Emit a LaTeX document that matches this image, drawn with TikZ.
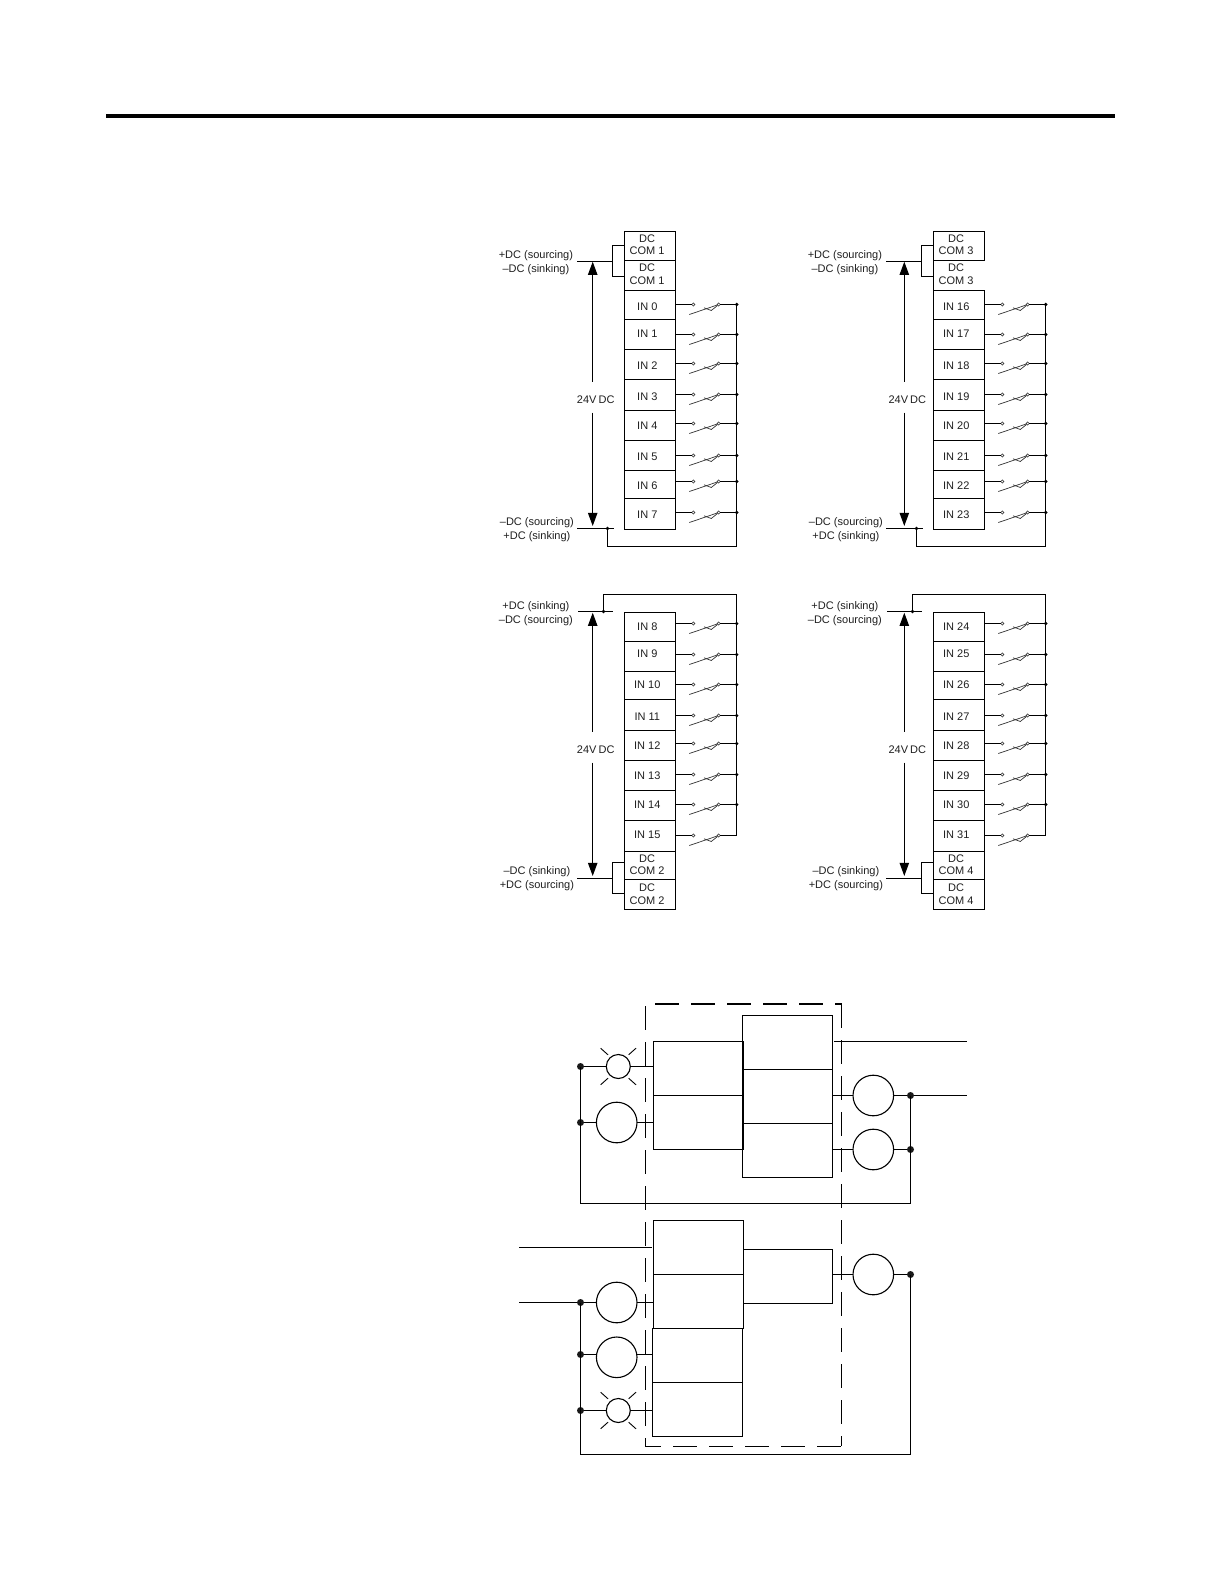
\documentclass[tikz,border=0pt]{standalone}
\usepackage{fontspec}
\setmainfont{Liberation Sans}
\usetikzlibrary{arrows.meta,calc}
\tikzset{
  wire/.style={line width=0.55bp,line join=miter},
  cell/.style={draw,line width=0.6bp,rectangle,inner sep=0pt,outer sep=0pt,minimum width=25.5bp},
  celltext/.style={inner sep=0pt,outer sep=0pt,font=\fontsize{5.5bp}{6.15bp}\selectfont,align=center,text=black!88},
  lab/.style={inner sep=0pt,outer sep=0pt,font=\fontsize{5.5bp}{6.15bp}\selectfont,text=black!88},
  contact/.style={circle,draw=black!75,line width=0.3bp,fill=white,inner sep=0pt,outer sep=0pt,minimum size=1.6bp},
  busdot/.style={circle,fill=black,inner sep=0pt,outer sep=0pt,minimum size=1.8bp},
  busend/.style={inner sep=0pt,outer sep=0pt,minimum size=0pt},
  blade/.style={line width=0.35bp,draw=black!80},
  volt/.style={line width=0.6bp,-{Triangle[length=6.6bp,width=4.7bp]}},
  bigdot/.style={circle,fill=black!90,inner sep=0pt,outer sep=0pt,minimum size=3.5bp},
  ring/.style={circle,draw,line width=0.55bp,inner sep=0pt,outer sep=0pt,minimum size=20.3bp},
  lamp/.style={circle,draw,line width=0.55bp,inner sep=0pt,outer sep=0pt,minimum size=12bp},
  ray/.style={line width=0.45bp},
  box/.style={draw,line width=0.6bp,rectangle,inner sep=0pt,outer sep=0pt,minimum width=45bp,minimum height=27bp},
  dash1/.style={line width=0.55bp,dash pattern=on 12bp off 6bp},
  dash2/.style={line width=1.1bp,dash pattern=on 12bp off 6bp}
}
% [cell opts]{name}{xL}{yT}{yB}{textY}{text}
\newcommand{\termcell}[6][]{%
  \pgfmathsetmacro\cellh{(#5-#4)*0.5}%
  \node[cell,#1,minimum height=\cellh bp] (#2) at (#3+25.5,{(#4+#5)/2}) {};
}
% name, xL, yT, yB, textY, wireY, label, bus-node style
\newcommand{\inrow}[8]{%
  \termcell{#1}{#2}{#3}{#4}{}{}%
  \pgfmathsetmacro\wyy{floor(#6)+0.5}%
  \node[celltext] (#1-t) at (#2+23,#5+0.5) {#7};
  \node[contact] (#1-a) at (#2+69,\wyy) {};
  \node[contact] (#1-b) at (#2+94.4,\wyy) {};
  \node[#8] (#1-c) at (#2+112.4,\wyy) {};
  \coordinate (#1-p) at (#2+65,\wyy+10);
  \coordinate (#1-q) at (#2+79.7,\wyy+3.3);
  \coordinate (#1-r) at (#2+87,\wyy+6);
  \draw[wire] (#1.east |- #1-a) -- (#1-a);
  \draw[wire] (#1-b) -- (#1-c);
  \draw[blade] (#1-p) -- (#1-b);
  \draw[blade] (#1-q) -- (#1-r) -- (#1-b);
}
% prefix, x offset, arrow x, first input, COM number, opts for second COM cell
\newcommand{\upperblock}[6]{%
  \pgfmathsetmacro\xL{#2+624.3}%
  \termcell{#1-c1}{\xL}{231.3}{260.7}{}{}
  \termcell[#6]{#1-c2}{\xL}{260.7}{290.3}{}{}
  \node[celltext] (#1-c1t) at (\xL+22.7,244.9) {DC\\COM #5};
  \node[celltext] (#1-c2t) at (\xL+22.7,274.2) {DC\\COM #5};
  \foreach \k/\yt/\yb/\ty/\wy in {0/290.3/319.3/306.3/304.3,1/319.3/349.3/333.3/334,2/349.3/379.3/365.3/363,3/379.3/410.3/396/394,4/410.3/440.3/425/423.7,5/440.3/470.3/456/455,6/470.3/498.3/485/481,7/498.3/529.3/514.3/512}{
    \pgfmathtruncatemacro\num{#4+\k}
    \inrow{#1-i\k}{\xL}{\yt}{\yb}{\ty}{\wy}{IN \num}{busdot}
  }
  \coordinate (#1-h0) at (#2+577,261.5);
  \coordinate (#1-b0) at (#2+612.5,261.5);
  \coordinate (#1-b1) at (#2+612.5,245.5);
  \coordinate (#1-b2) at (#2+612.5,276.5);
  \draw[wire] (#1-h0) -- (#1-b0);
  \draw[wire] (#1-c1.west |- #1-b1) -- (#1-b1) -- (#1-b2) -- (#1-c2.west |- #1-b2);
  \node[lab] (#1-l1) at (#2+535.9,256.1) {+DC (sourcing)};
  \node[lab] (#1-l2) at (#2+535.9,270.1) {–DC (sinking)};
  \node[lab] (#1-l3) at (#2+536.9,523.1) {–DC (sourcing)};
  \node[lab] (#1-l4) at (#2+536.9,537.1) {+DC (sinking)};
  \node[lab] (#1-v) at (#3+3,399.3) {24V\hspace{-0.5bp} DC};
  \coordinate (#1-a1) at (#3,381.7);
  \coordinate (#1-a2) at (#3,261.7);
  \coordinate (#1-a3) at (#3,412.7);
  \coordinate (#1-a4) at (#3,526);
  \draw[volt] (#1-a1) -- (#1-a2);
  \draw[volt] (#1-a3) -- (#1-a4);
  \coordinate (#1-h1) at (#2+577,528.5);
  \coordinate (#1-h2) at (#2+613.7,528.5);
  \node[busdot] (#1-d) at (#2+607.5,528.5) {};
  \draw[wire] (#1-h1) -- (#1-h2);
  \coordinate (#1-r1) at (#2+736.7,546.5);
  \coordinate (#1-r2) at (#2+607.5,546.5);
  \draw[wire] (#1-i0-c.center) -- (#1-r1) -- (#1-r2) -- (#1-d.center);
}
\newcommand{\lowerblock}[5]{%
  \pgfmathsetmacro\xL{#2+624.3}%
  \foreach \k/\yt/\yb/\ty/\wy/\st in {0/612.3/641.3/626/623.3/busdot,1/641.3/671.3/653.3/654/busdot,2/671.3/699.3/684.7/684/busdot,3/699.3/730.3/716/715/busdot,4/730.3/760.3/745/743.3/busdot,5/760.3/790.3/775.3/774.3/busdot,6/790.3/820.7/804.3/804.3/busdot,7/820.7/851.3/834/835/busend}{
    \pgfmathtruncatemacro\num{#4+\k}
    \inrow{#1-i\k}{\xL}{\yt}{\yb}{\ty}{\wy}{IN \num}{\st}
  }
  \termcell{#1-c1}{\xL}{851.3}{879.3}{}{}
  \termcell{#1-c2}{\xL}{879.3}{909.3}{}{}
  \node[celltext] (#1-c1t) at (\xL+22.7,864.9) {DC\\COM #5};
  \node[celltext] (#1-c2t) at (\xL+22.7,894.2) {DC\\COM #5};
  \coordinate (#1-h0) at (#2+577,878.5);
  \coordinate (#1-b0) at (#2+612.5,878.5);
  \coordinate (#1-b1) at (#2+612.5,862.5);
  \coordinate (#1-b2) at (#2+612.5,893.5);
  \draw[wire] (#1-h0) -- (#1-b0);
  \draw[wire] (#1-c1.west |- #1-b1) -- (#1-b1) -- (#1-b2) -- (#1-c2.west |- #1-b2);
  \node[lab] (#1-l1) at (#2+535.9,607.1) {+DC (sinking)};
  \node[lab] (#1-l2) at (#2+535.9,621.1) {–DC (sourcing)};
  \node[lab] (#1-l3) at (#2+536.9,871.5) {–DC (sinking)};
  \node[lab] (#1-l4) at (#2+536.9,885.5) {+DC (sourcing)};
  \node[lab] (#1-v) at (#3+3,749.8) {24V\hspace{-0.5bp} DC};
  \coordinate (#1-a1) at (#3,731.7);
  \coordinate (#1-a2) at (#3,612.7);
  \coordinate (#1-a3) at (#3,762.7);
  \coordinate (#1-a4) at (#3,876);
  \draw[volt] (#1-a1) -- (#1-a2);
  \draw[volt] (#1-a3) -- (#1-a4);
  \coordinate (#1-h1) at (#2+578.3,611.5);
  \coordinate (#1-h2) at (#2+612.7,611.5);
  \node[busdot] (#1-d) at (#2+603.5,611.5) {};
  \draw[wire] (#1-h1) -- (#1-h2);
  \coordinate (#1-r1) at (#2+736.7,594.5);
  \coordinate (#1-r2) at (#2+603.5,594.5);
  \draw[wire] (#1-i7-c.center) -- (#1-r1) -- (#1-r2) -- (#1-d.center);
}
\newcommand{\lamprays}[1]{%
  \foreach \sx in {-1,1}{\foreach \sy in {-1,1}{
    \draw[ray] ([shift={(\sx*17.7,\sy*18.3)}]#1.center) -- ([shift={(\sx*10.3,\sy*11.7)}]#1.center);
  }}
}
\begin{document}
\begin{tikzpicture}[x=0.5bp,y=-0.5bp]
\useasboundingbox (0,0) rectangle (1224,1584);
\fill[black] (106,114) rectangle (1115,118.3);
\upperblock{UL}{0}{592.7}{0}{1}{}
\upperblock{UR}{309}{904.3}{16}{3}{draw=none}
\draw[line width=0.6bp] (UR-c2.north west) -- (UR-c2.south west);
\lowerblock{LL}{0}{592.7}{8}{2}
\lowerblock{LR}{309}{904.3}{24}{4}
% dashed enclosure
\draw[dash1] (645.3,1006) -- (645.3,1446.3) -- (841.3,1446.3);
\draw[dash1] (841.3,1004) -- (841.3,1446.3);
\draw[dash2] (655,1004) -- (841.9,1004);
% upper control circuit
\node[box] (A1) at (698.3,1068.3) {};
\node[box] (A2) at (698.3,1122.3) {};
\node[box] (B1) at (787.3,1042.3) {};
\node[box] (B2) at (787.3,1096.3) {};
\node[box] (B3) at (787.3,1150.3) {};
\draw[line width=1.1bp] (A1.north east) -- (A2.south east);
\node[lamp] (L1) at (618.3,1066.5) {};
\lamprays{L1}
\node[ring] (C1) at (616.7,1122.5) {};
\node[ring] (C2) at (873.3,1095.5) {};
\node[ring] (C3) at (873.3,1149.5) {};
\node[bigdot] (D1) at (580.5,1066.5) {};
\node[bigdot] (D2) at (580.5,1122.5) {};
\node[bigdot] (D3) at (910.5,1095.5) {};
\node[bigdot] (D4) at (910.5,1149.5) {};
\coordinate (O1) at (834,1041.5);
\coordinate (O2) at (967,1041.5);
\coordinate (O3) at (967,1095.5);
\coordinate (K1) at (910.5,1203.5);
\coordinate (K2) at (580.5,1203.5);
\draw[wire] (O1) -- (O2);
\draw[wire] (D3) -- (O3);
\draw[wire] (C2.east) -- (D3);
\draw[wire] (C3.east) -- (D4);
\draw[wire] (B2.east |- C2) -- (C2);
\draw[wire] (B3.east |- C3) -- (C3);
\draw[wire] (D1) -- (L1);
\draw[wire] (L1) -- (L1 -| A1.west);
\draw[wire] (D2) -- (C1);
\draw[wire] (C1) -- (C1 -| A2.west);
\draw[wire] (D3.center) -- (K1) -- (K2) -- (D1.center);
% lower control circuit
\node[box] (E1) at (698.5,1247.3) {};
\node[box] (E2) at (698.5,1301.3) {};
\node[box] (F1) at (697.5,1355.3) {};
\node[box] (F2) at (697.5,1409.3) {};
\node[draw,line width=0.6bp,rectangle,inner sep=0pt,outer sep=0pt,minimum width=44.3bp,minimum height=27bp] (G) at (788,1276.3) {};
\node[ring] (C4) at (616.7,1302.5) {};
\node[ring] (C5) at (616.7,1357.3) {};
\node[lamp] (L2) at (618.3,1410.5) {};
\lamprays{L2}
\node[ring] (C6) at (873.3,1274.5) {};
\node[bigdot] (D5) at (580.5,1302.5) {};
\node[bigdot] (D6) at (580.5,1354.5) {};
\node[bigdot] (D7) at (580.5,1410.5) {};
\node[bigdot] (D8) at (910.5,1274.5) {};
\coordinate (I1) at (519,1247.5);
\coordinate (I2) at (651.7,1247.5);
\coordinate (I3) at (519,1302.5);
\coordinate (K3) at (580.5,1454.5);
\coordinate (K4) at (910.5,1454.5);
\draw[wire] (I1) -- (I2);
\draw[wire] (I3) -- (D5);
\draw[wire] (D5) -- (C4);
\draw[wire] (C4) -- (C4 -| E2.west);
\draw[wire] (D6) -- (D6 -| C5.west);
\draw[wire] (C5.east |- D6) -- (D6 -| F1.west);
\draw[wire] (D7) -- (L2);
\draw[wire] (L2) -- (L2 -| F2.west);
\draw[wire] (G.east |- C6) -- (C6);
\draw[wire] (C6) -- (D8);
\draw[wire] (D5.center) -- (K3) -- (K4) -- (D8.center);
\end{tikzpicture}
\end{document}
